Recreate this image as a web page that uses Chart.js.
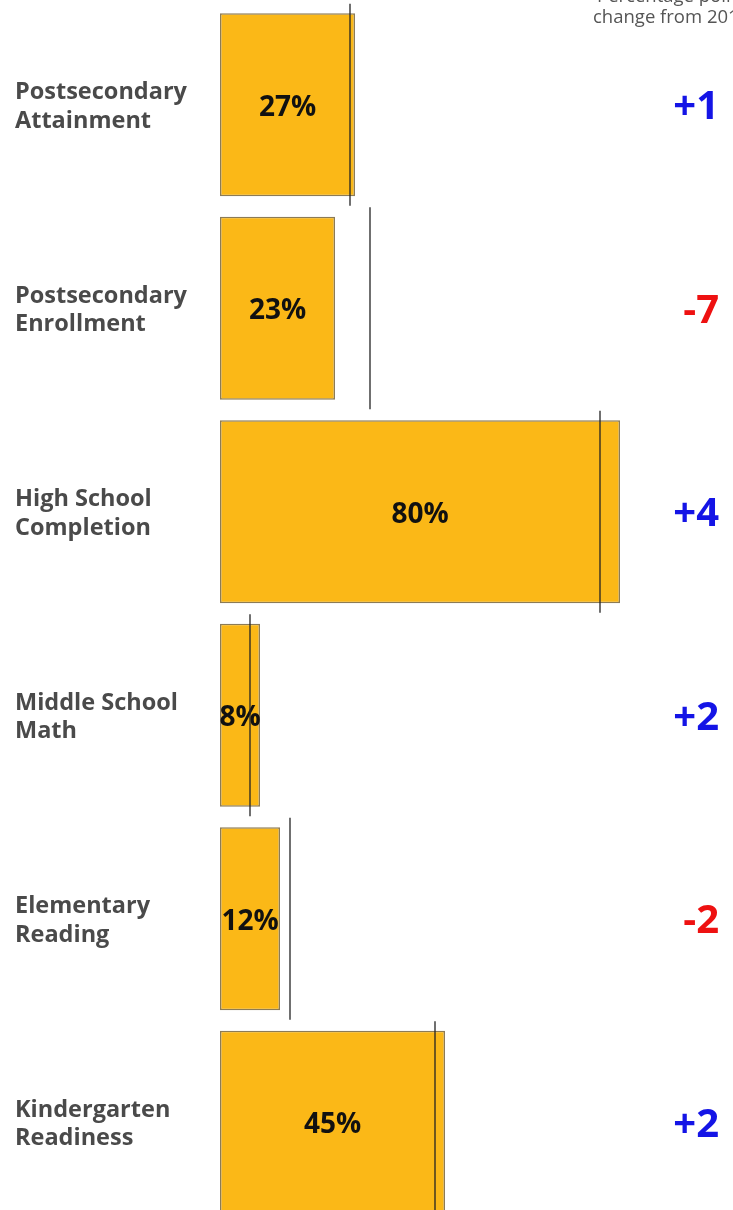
<!DOCTYPE html>
<html>
<head>
<meta charset="utf-8">
<script src="https://cdn.jsdelivr.net/npm/chart.js@4/dist/chart.umd.min.js"></script>
<style>
  html, body { margin: 0; padding: 0; background: #fff; overflow: hidden; }
  #wrap { width: 733px; height: 1224px; }
</style>
</head>
<body>
<div id="wrap"><canvas id="c" width="733" height="1224"></canvas></div>
<script>
// Indicator names (drawn as two-line axis labels)
const categories = [
  ['Postsecondary', 'Attainment'],
  ['Postsecondary', 'Enrollment'],
  ['High School', 'Completion'],
  ['Middle School', 'Math'],
  ['Elementary', 'Reading'],
  ['Kindergarten', 'Readiness']
];
// Current percentage for each indicator
const currentValues = [27, 23, 80, 8, 12, 45];
// Percentage point change since the earlier year
const changeValues = [1, -7, 4, 2, -2, 2];
// Earlier-year value marked by the thin vertical line
const previousValues = currentValues.map((v, i) => v - changeValues[i]);
const headerLines = ['Percentage point', 'change from 2012'];

const FONT = '"Open Sans", "DejaVu Sans", sans-serif';

// Percent text centred inside each bar, painted right after the bars
const barLabels = {
  id: 'barLabels',
  afterDatasetDraw(chart, args) {
    if (args.index !== 0) return;
    const ctx = chart.ctx;
    ctx.save();
    ctx.font = 'bold 28px ' + FONT;
    ctx.fillStyle = '#111';
    ctx.textAlign = 'center';
    ctx.textBaseline = 'middle';
    args.meta.data.forEach((bar, i) => {
      ctx.fillText(currentValues[i] + '%', (bar.base + bar.x) / 2, bar.y + 3);
    });
    ctx.restore();
  }
};

// Change figures on the right and the header text
const sideText = {
  id: 'sideText',
  afterDraw(chart) {
    const ctx = chart.ctx;
    const y = chart.scales.y;
    ctx.save();
    ctx.font = 'bold 40px ' + FONT;
    ctx.textAlign = 'right';
    ctx.textBaseline = 'middle';
    changeValues.forEach((c, i) => {
      ctx.fillStyle = c >= 0 ? '#1414e6' : '#ee1111';
      ctx.fillText((c >= 0 ? '+' : '-') + Math.abs(c), 719, y.getPixelForValue(i) + 3);
    });
    ctx.font = '18.5px ' + FONT;
    ctx.fillStyle = '#555';
    ctx.textAlign = 'left';
    ctx.textBaseline = 'alphabetic';
    ctx.fillText(headerLines[0], 597, 2);
    ctx.fillText(headerLines[1], 593, 23);
    ctx.restore();
  }
};

new Chart(document.getElementById('c'), {
  data: {
    labels: categories,
    datasets: [
      {
        type: 'bar',
        data: currentValues,
        backgroundColor: '#fbb817',
        borderColor: '#8c7b55',
        borderWidth: 1.5,
        borderSkipped: false,
        categoryPercentage: 1,
        barPercentage: 0.9,
        order: 2
      },
      {
        type: 'scatter',
        data: previousValues.map((v, i) => ({ x: v, y: i })),
        pointStyle: 'line',
        rotation: 90,
        radius: 101,
        hoverRadius: 101,
        borderColor: '#222',
        borderWidth: 1.3,
        backgroundColor: '#222',
        clip: false,
        order: 1
      }
    ]
  },
  options: {
    indexAxis: 'y',
    responsive: false,
    animation: false,
    events: [],
    layout: { autoPadding: false, padding: { left: 15, right: 113, top: 3, bottom: 0 } },
    plugins: { legend: { display: false }, tooltip: { enabled: false } },
    scales: {
      x: { type: 'linear', min: 0, max: 80, display: false },
      y: {
        type: 'category',
        offset: true,
        grid: { display: false },
        border: { display: false },
        afterFit(scale) {
          scale.width = 205;
          scale.paddingTop = 0;
          scale.paddingBottom = 0;
        },
        ticks: {
          crossAlign: 'far',
          labelOffset: 2,
          color: '#4a4a4a',
          font: { family: FONT, weight: 'bold', size: 23.5, lineHeight: 1.2 }
        }
      }
    }
  },
  plugins: [barLabels, sideText]
});
</script>
</body>
</html>
